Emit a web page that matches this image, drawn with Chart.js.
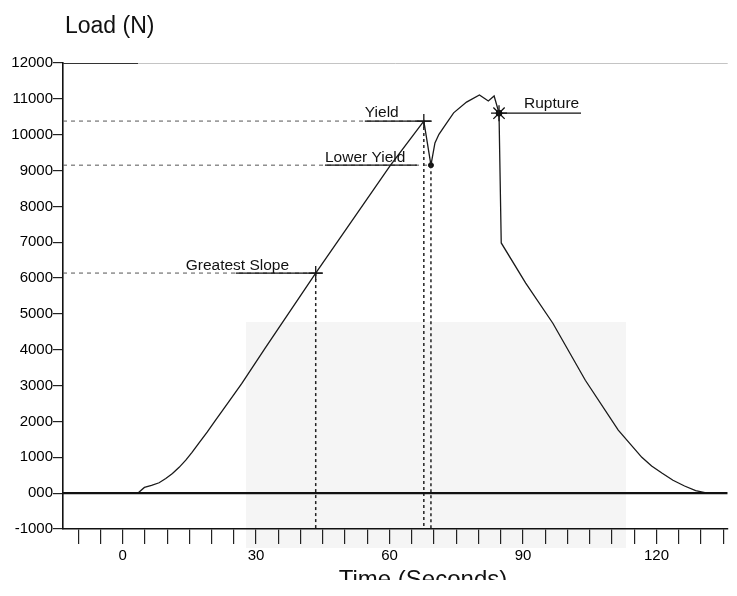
<!DOCTYPE html>
<html>
<head>
<meta charset="utf-8">
<script src="https://cdn.jsdelivr.net/npm/chart.js@4/dist/chart.umd.min.js"></script>
<style>
  body { margin: 0; background: #fff; }
  #wrap { width: 737px; height: 596px; position: relative; }
</style>
</head>
<body>
<div id="wrap"><canvas id="loadChart"></canvas></div>
<script>
// load curve
const timeSeconds = [3.4, 4.9, 6.5, 8.2, 9.7, 11.2, 12.7, 14.2, 15.6, 17.1, 19.0, 20.9, 23.8, 26.8, 32.0, 43.4, 60.1, 67.7, 69.3, 70.2, 71.1, 72.2, 74.4, 77.3, 80.2, 82.2, 83.5, 84.6, 85.1, 90.6, 96.7, 104.0, 111.4, 116.7, 118.9, 121.2, 123.7, 126.3, 128.8, 131.4];
const loadNewtons = [0, 160, 220, 290, 410, 550, 720, 920, 1140, 1390, 1700, 2040, 2540, 3060, 4040, 6140, 9130, 10380, 9150, 9770, 10010, 10210, 10610, 10910, 11110, 10940, 11080, 10600, 6980, 5860, 4740, 3150, 1760, 1000, 760, 560, 360, 200, 70, 0];

// marked events
const eventNames = ['Greatest Slope', 'Yield', 'Lower Yield', 'Rupture'];
const eventTimes = [43.4, 67.7, 69.3, 84.6];
const eventLoads = [6140, 10380, 9150, 10600];

// axes
const xMin = -13.4, xMax = 136;
const yMin = -1000, yMax = 12000;
const xTickValues = [-10, -5, 0, 5, 10, 15, 20, 25, 30, 35, 40, 45, 50, 55, 60, 65, 70, 75, 80, 85, 90, 95, 100, 105, 110, 115, 120, 125, 130, 135];
const xTickLabels = { 0: '0', 30: '30', 60: '60', 90: '90', 120: '120' };
const yTickValues = [-1000, 0, 1000, 2000, 3000, 4000, 5000, 6000, 7000, 8000, 9000, 10000, 11000, 12000];
const yTickLabels = ['-1000', '000', '1000', '2000', '3000', '4000', '5000', '6000', '7000', '8000', '9000', '10000', '11000', '12000'];

const FONT = 'Arial, "Liberation Sans", sans-serif';

const curve = timeSeconds.map((t, i) => ({ x: t, y: loadNewtons[i] }));

// dotted guide lines for the first three events
const guideSets = [];
for (let i = 0; i < 3; i++) {
  guideSets.push({
    data: [{ x: xMin, y: eventLoads[i] }, { x: eventTimes[i], y: eventLoads[i] }],
    borderColor: '#555', borderWidth: 1, borderDash: [4, 4], pointRadius: 0
  });
  guideSets.push({
    data: [{ x: eventTimes[i], y: eventLoads[i] }, { x: eventTimes[i], y: yMin }],
    borderColor: '#222', borderWidth: 1.5, borderDash: [3, 3], pointRadius: 0
  });
}

// label placement relative to each marker (pixels)
const labelLayout = [
  { dx: -130, dy: -3, from: -80, to: 7 },
  { dx: -59, dy: -4, from: -59, to: 8 },
  { dx: -106, dy: -3, from: -106, to: -14 },
  { dx: 25, dy: -5, from: 0, to: 82 }
];

const decorPlugin = {
  id: 'decor',
  beforeDraw(chart) {
    const ctx = chart.ctx;
    ctx.save();
    ctx.fillStyle = '#f5f5f5';
    ctx.fillRect(246, 322, 380, 226);
    ctx.restore();
  },
  afterDraw(chart) {
    const ctx = chart.ctx;
    const xs = chart.scales.x, ys = chart.scales.y;
    const area = chart.chartArea;
    ctx.save();
    // faint top frame
    ctx.strokeStyle = '#c4c4c4';
    ctx.lineWidth = 1;
    ctx.beginPath();
    ctx.moveTo(area.left, area.top + 0.5);
    ctx.lineTo(area.right, area.top + 0.5);
    ctx.stroke();
    ctx.strokeStyle = '#333';
    ctx.beginPath();
    ctx.moveTo(area.left, area.top + 0.5);
    ctx.lineTo(area.left + 75, area.top + 0.5);
    ctx.stroke();

    ctx.fillStyle = '#111';
    ctx.strokeStyle = '#111';
    ctx.font = '15.5px ' + FONT;
    ctx.textAlign = 'left';
    ctx.textBaseline = 'alphabetic';
    eventNames.forEach((name, i) => {
      const px = xs.getPixelForValue(eventTimes[i]);
      const py = ys.getPixelForValue(eventLoads[i]);
      const l = labelLayout[i];
      ctx.lineWidth = 1.3;
      ctx.beginPath();
      ctx.moveTo(px + l.from, py);
      ctx.lineTo(px + l.to, py);
      ctx.stroke();
      ctx.fillText(name, px + l.dx, py + l.dy);
    });

    // axis titles
    ctx.font = '23px ' + FONT;
    ctx.fillText('Load (N)', 65, 33);
    ctx.beginPath();
    ctx.rect(0, 0, chart.width, 580);
    ctx.clip();
    ctx.font = '24px ' + FONT;
    ctx.textAlign = 'center';
    ctx.fillText('Time (Seconds)', 423, 587);
    ctx.restore();
  }
};

new Chart(document.getElementById('loadChart'), {
  type: 'line',
  data: {
    datasets: [
      {
        data: [{ x: xMin, y: 0 }, { x: xMax, y: 0 }],
        borderColor: '#111', borderWidth: 2.2, pointRadius: 0
      },
      ...guideSets,
      {
        data: curve,
        borderColor: '#1a1a1a', borderWidth: 1.3, pointRadius: 0, tension: 0
      },
      {
        data: eventTimes.map((t, i) => ({ x: t, y: eventLoads[i] })),
        showLine: false,
        pointStyle: ['cross', 'cross', 'circle', 'star'],
        pointRadius: [7, 7, 2.5, 8],
        pointBorderWidth: [1.3, 1.3, 1, 1.3],
        pointBorderColor: '#111',
        pointBackgroundColor: '#111'
      },
      {
        data: [{ x: eventTimes[3], y: eventLoads[3] }],
        showLine: false, pointStyle: 'circle', pointRadius: 3,
        pointBackgroundColor: '#111', pointBorderColor: '#111'
      }
    ]
  },
  options: {
    responsive: true,
    maintainAspectRatio: false,
    animation: false,
    layout: { padding: { top: 63, right: 4, left: 0, bottom: 0 } },
    plugins: { legend: { display: false }, tooltip: { enabled: false } },
    scales: {
      x: {
        type: 'linear',
        min: xMin, max: xMax,
        afterBuildTicks: axis => { axis.ticks = xTickValues.map(v => ({ value: v })); },
        afterFit: axis => { axis.height = 67; },
        ticks: {
          autoSkip: false, maxRotation: 0, padding: 3,
          color: '#000', font: { family: FONT, size: 15 },
          callback: v => xTickLabels[v] || ''
        },
        grid: { drawOnChartArea: false, drawTicks: true, tickLength: 15, color: '#222', lineWidth: 1.2 },
        border: { color: '#111', width: 1.6 }
      },
      y: {
        min: yMin, max: yMax,
        afterBuildTicks: axis => { axis.ticks = yTickValues.map(v => ({ value: v })); },
        afterFit: axis => { axis.width = 63; },
        ticks: {
          autoSkip: false, padding: 0,
          color: '#000', font: { family: FONT, size: 15 },
          callback: (v, i) => yTickLabels[i]
        },
        grid: { drawOnChartArea: false, drawTicks: true, tickLength: 10, color: '#222', lineWidth: 1.2 },
        border: { color: '#111', width: 1.6 }
      }
    }
  },
  plugins: [decorPlugin]
});
</script>
</body>
</html>
